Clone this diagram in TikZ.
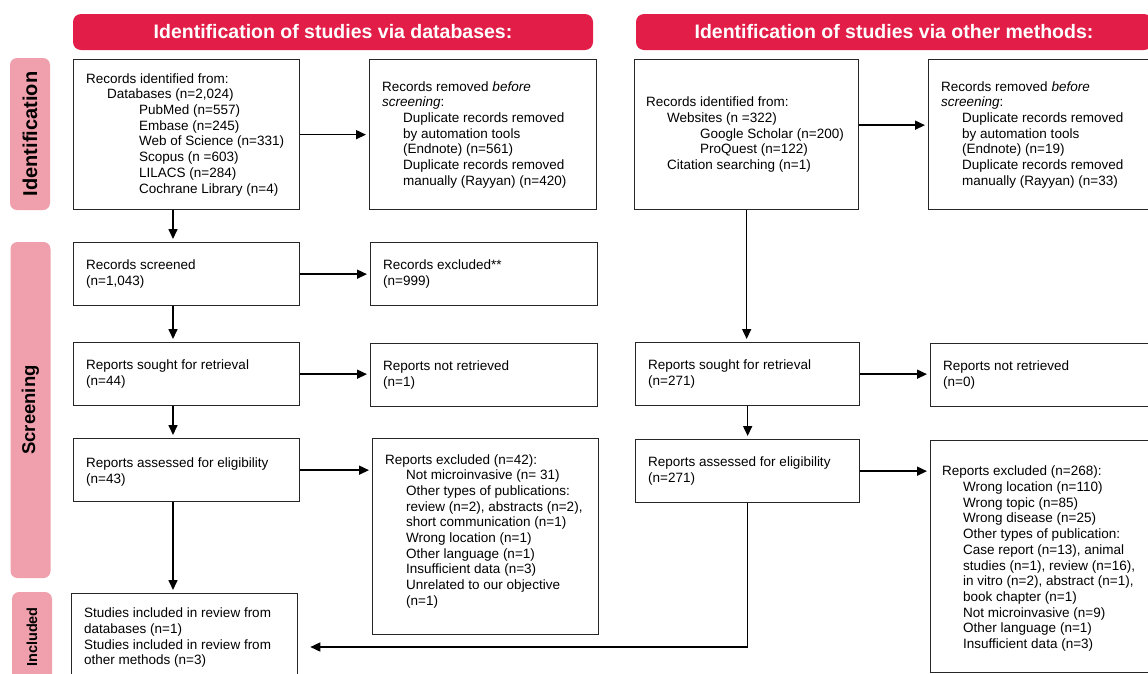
\documentclass[tikz,border=0pt]{standalone}
\usepackage{fontspec}
\setmainfont{Liberation Sans}
\usetikzlibrary{positioning,arrows.meta}
\definecolor{headred}{RGB}{226,30,72}
\definecolor{phasepink}{RGB}{240,160,172}
\newcommand{\indA}{\hspace*{21pt}}
\newcommand{\indB}{\hspace*{53pt}}

\begin{document}
\begin{tikzpicture}[x=1pt,y=-1pt,>={Triangle[length=10pt,width=9pt]},
    box/.style={draw=black!85,line width=1.3pt,fill=white,inner sep=0pt,anchor=north west},
    txt/.style={inner sep=0pt,align=left,font=\fontsize{13.5}{15.7}\selectfont},
    head/.style={fill=headred,rounded corners=8pt,text=white,minimum height=36pt,
        font=\bfseries\fontsize{19.5}{22}\selectfont},
    phase/.style={fill=phasepink,rounded corners=7pt,rotate=90,minimum height=40pt},
    flow/.style={->,line width=1.6pt,shorten >=3pt}]
    \clip (0,0) rectangle (1148,673);
    \fill[white] (0,0) rectangle (1148,673);

    % headers and phase bars
    \node[head,minimum width=520pt] (hdb) at (333,32) {Identification of studies via databases:};
    \node[head,minimum width=516pt] (hot) at (894,32) {Identification of studies via other methods:};
    \node[phase,minimum width=152pt,font=\bfseries\fontsize{20}{24}\selectfont] (pid) at (30,134) {Identification};
    \node[phase,minimum width=336pt,font=\bfseries\fontsize{18.5}{22}\selectfont] (psc) at (30.5,410) {Screening};
    \node[phase,minimum width=90pt,font=\bfseries\fontsize{14.5}{18}\selectfont] (pin) at (32,637) {Included};

    % databases
    \node[box,minimum width=226pt,minimum height=150pt] (a1) at (73,59) {};
    \node[txt,right=13pt of a1.west] (a1t) {Records identified from:\\
        \indA Databases (n=2,024)\\ \indB PubMed (n=557)\\ \indB Embase (n=245)\\
        \indB Web of Science (n=331)\\ \indB Scopus (n =603)\\ \indB LILACS (n=284)\\
        \indB Cochrane Library (n=4)};
    \node[box,minimum width=227pt,minimum height=150pt] (b1) at (369,59) {};
    \node[txt,right=13pt of b1.west] (b1t) {Records removed \textit{before}\\
        \textit{screening}:\\ \indA Duplicate records removed\\ \indA by automation tools\\
        \indA (Endnote) (n=561)\\ \indA Duplicate records removed\\ \indA manually (Rayyan) (n=420)};
    \node[box,minimum width=226pt,minimum height=63pt] (a2) at (73,242) {};
    \node[txt,right=13pt of a2.west] (a2t) {Records screened\\(n=1,043)};
    \node[box,minimum width=227pt,minimum height=63pt] (b2) at (370,242) {};
    \node[txt,right=13pt of b2.west] (b2t) {Records excluded**\\(n=999)};
    \node[box,minimum width=226pt,minimum height=63pt] (a3) at (73,342) {};
    \node[txt,right=13pt of a3.west] (a3t) {Reports sought for retrieval\\(n=44)};
    \node[box,minimum width=227pt,minimum height=63pt] (b3) at (370,343) {};
    \node[txt,right=13pt of b3.west] (b3t) {Reports not retrieved\\(n=1)};
    \node[box,minimum width=226pt,minimum height=63pt] (a4) at (73,438) {};
    \node[txt,right=13pt of a4.west,yshift=-1.5pt] (a4t) {Reports assessed for eligibility\\(n=43)};
    \node[box,minimum width=226pt,minimum height=196pt] (b4) at (372,438) {};
    \node[txt,right=13pt of b4.west,yshift=5.5pt] (b4t) {Reports excluded (n=42):\\
        \indA Not microinvasive (n= 31)\\ \indA Other types of publications:\\
        \indA review (n=2), abstracts (n=2),\\ \indA short communication (n=1)\\
        \indA Wrong location (n=1)\\ \indA Other language (n=1)\\ \indA Insufficient data (n=3)\\
        \indA Unrelated to our objective\\ \indA (n=1)};
    \node[box,minimum width=226pt,minimum height=88pt] (a5) at (71,593) {};
    \node[txt,right=13pt of a5.west] (a5t) {Studies included in review from\\
        databases (n=1)\\ Studies included in review from\\ other methods (n=3)};

    % other methods
    \node[box,minimum width=224pt,minimum height=150pt] (c1) at (634,59) {};
    \node[txt,right=12pt of c1.west] (c1t) {Records identified from:\\
        \indA Websites (n =322)\\ \hspace*{54pt}Google Scholar (n=200)\\ \hspace*{54pt}ProQuest (n=122)\\
        \indA Citation searching (n=1)};
    \node[box,minimum width=228pt,minimum height=150pt] (d1) at (928,59) {};
    \node[txt,right=13pt of d1.west] (d1t) {Records removed \textit{before}\\
        \textit{screening}:\\ \indA Duplicate records removed\\ \indA by automation tools\\
        \indA (Endnote) (n=19)\\ \indA Duplicate records removed\\ \indA manually (Rayyan) (n=33)};
    \node[box,minimum width=224pt,minimum height=63pt] (c3) at (635,342) {};
    \node[txt,right=13pt of c3.west] (c3t) {Reports sought for retrieval\\(n=271)};
    \node[box,minimum width=228pt,minimum height=63pt] (d3) at (930,343) {};
    \node[txt,right=13pt of d3.west] (d3t) {Reports not retrieved\\(n=0)};
    \node[box,minimum width=224pt,minimum height=63pt] (c4) at (635,439) {};
    \node[txt,right=13pt of c4.west] (c4t) {Reports assessed for eligibility\\(n=271)};
    \node[box,minimum width=228pt,minimum height=232pt] (d4) at (930,440) {};
    \node[txt,right=12pt of d4.west,yshift=-2pt] (d4t) {Reports excluded (n=268):\\
        \indA Wrong location (n=110)\\ \indA Wrong topic (n=85)\\ \indA Wrong disease (n=25)\\
        \indA Other types of publication:\\ \indA Case report (n=13), animal\\
        \indA studies (n=1), review (n=16),\\ \indA in vitro (n=2), abstract (n=1),\\
        \indA book chapter (n=1)\\ \indA Not microinvasive (n=9)\\ \indA Other language (n=1)\\
        \indA Insufficient data (n=3)};

    % connectors
    \coordinate (lx) at (173,0);
    \coordinate (jy) at (0,647);
    \coordinate (c1r) at ([yshift=9.5pt]c1.east);
    \draw[flow] (a1.south -| lx) -- (a2.north -| lx);
    \draw[flow] (a2.south -| lx) -- (a3.north -| lx);
    \draw[flow] (a3.south -| lx) -- (a4.north -| lx);
    \draw[flow] (a4.south -| lx) -- (a5.north -| lx);
    \draw[flow] (a1.east) -- (a1.east -| b1.west);
    \draw[flow] (a2.east) -- (a2.east -| b2.west);
    \draw[flow] (a3.east) -- (a3.east -| b3.west);
    \draw[flow] (a4.east) -- (a4.east -| b4.west);
    \draw[flow] (c1.south) -- (c1.south |- c3.north);
    \draw[flow] (c3.south) -- (c3.south |- c4.north);
    \draw[flow] (c1r) -- (c1r -| d1.west);
    \draw[flow] (c3.east) -- (c3.east -| d3.west);
    \draw[flow] (c4.east) -- (c4.east -| d4.west);
    \draw[flow,shorten >=12pt] (c4.south) -- (c4.south |- jy) -- (jy -| a5.east);
\end{tikzpicture}
\end{document}
